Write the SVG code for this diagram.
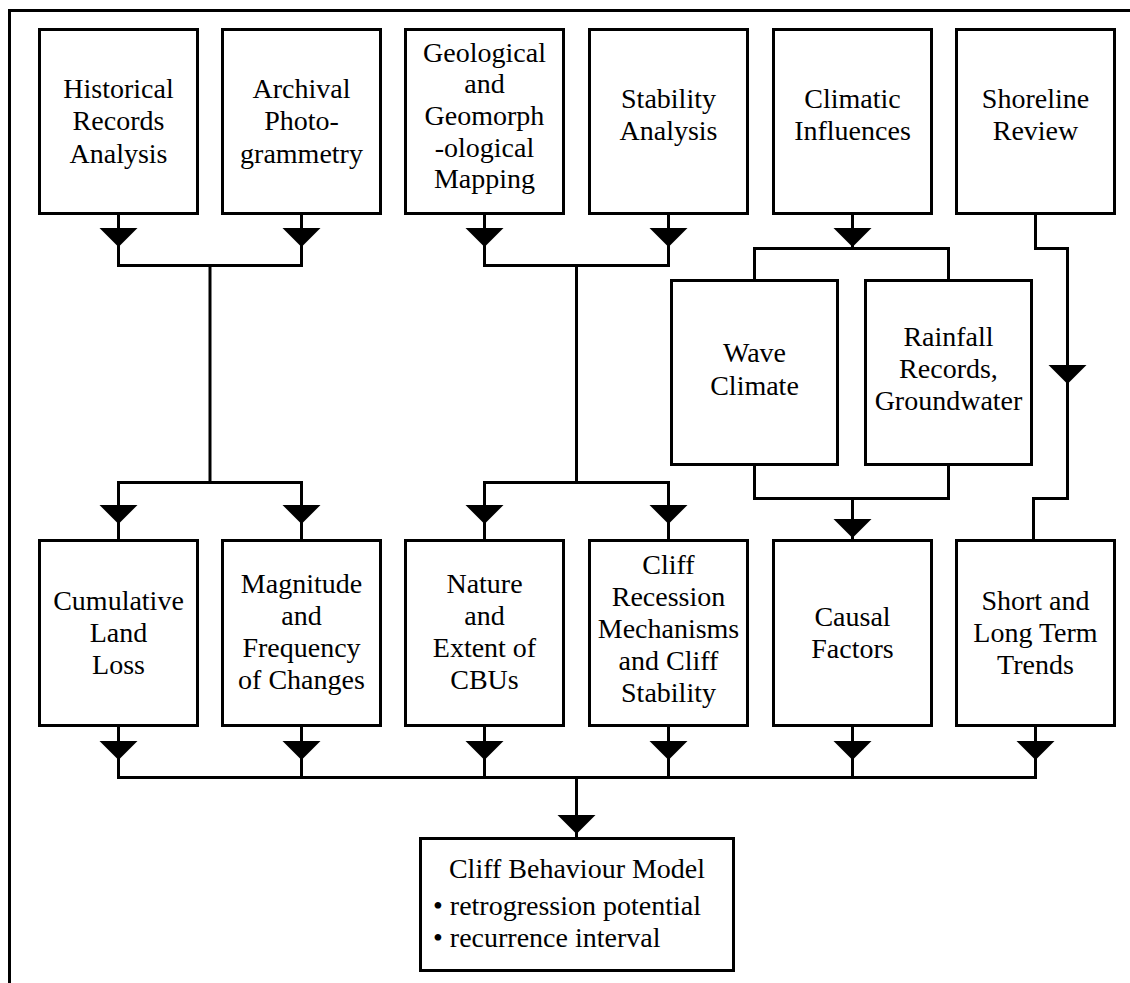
<svg xmlns="http://www.w3.org/2000/svg" width="1130" height="983" viewBox="0 0 1130 983" font-family="'Liberation Serif', 'Times New Roman', 'DejaVu Serif', serif" font-size="28">
<style>
.box{fill:#fff;stroke:#000;stroke-width:3}
.ln{fill:none;stroke:#000;stroke-width:3}
text{font-family:'Liberation Serif','Times New Roman','DejaVu Serif',serif;font-size:28px;fill:#000}
.c{text-anchor:middle}
</style>
<defs>
<path id="ah" d="M-19,0 L19,0 L0,19 Z" fill="#000"/>
</defs>
<rect x="0" y="0" width="1130" height="983" fill="#fff"/>
<path class="ln" d="M9.5,983 V10.5 H1130"/>

<g id="connectors">
<path class="ln" d="M118.5,214 V265.5 H301.5 V214"/>
<path class="ln" d="M210,265.5 V482.5"/>
<path class="ln" d="M118.5,540 V482.5 H301.5 V540"/>
<path class="ln" d="M484.5,214 V265.5 H668.5 V214"/>
<path class="ln" d="M576.5,265.5 V482.5"/>
<path class="ln" d="M484.5,540 V482.5 H668.5 V540"/>
<path class="ln" d="M852.5,214 V248.5"/>
<path class="ln" d="M754.5,280 V248.5 H948.5 V280"/>
<path class="ln" d="M754.5,465 V498.5 H948.5 V465"/>
<path class="ln" d="M852.5,498.5 V540"/>
<path class="ln" d="M1035.5,214 V248.5 H1067.5 V498.5 H1033.5 V540"/>
<path class="ln" d="M118.5,726 V777.5 M301.5,726 V777.5 M484.5,726 V777.5 M668.5,726 V777.5 M852.5,726 V777.5 M1035.5,726 V777.5"/>
<path class="ln" d="M117,777.5 H1037"/>
<path class="ln" d="M576.5,777.5 V838"/>
<use href="#ah" x="118.5" y="228"/>
<use href="#ah" x="301.5" y="228"/>
<use href="#ah" x="484.5" y="228"/>
<use href="#ah" x="668.5" y="228"/>
<use href="#ah" x="852.5" y="228"/>
<use href="#ah" x="118.5" y="505"/>
<use href="#ah" x="301.5" y="505"/>
<use href="#ah" x="484.5" y="505"/>
<use href="#ah" x="668.5" y="505"/>
<use href="#ah" x="852.5" y="519"/>
<use href="#ah" x="1067.5" y="365"/>
<use href="#ah" x="118.5" y="741"/>
<use href="#ah" x="301.5" y="741"/>
<use href="#ah" x="484.5" y="741"/>
<use href="#ah" x="668.5" y="741"/>
<use href="#ah" x="852.5" y="741"/>
<use href="#ah" x="1035.5" y="741"/>
<use href="#ah" x="576.5" y="815"/>
</g>

<g id="historical">
<rect class="box" x="39.5" y="29.5" width="158" height="184"/>
<text class="c" x="118.5" y="98">Historical</text>
<text class="c" x="118.5" y="130">Records</text>
<text class="c" x="118.5" y="163">Analysis</text>
</g>
<g id="archival">
<rect class="box" x="222.5" y="29.5" width="158" height="184"/>
<text class="c" x="301.5" y="98">Archival</text>
<text class="c" x="301.5" y="130">Photo-</text>
<text class="c" x="301.5" y="163">grammetry</text>
</g>
<g id="geological">
<rect class="box" x="405.5" y="29.5" width="158" height="184"/>
<text class="c" x="484.5" y="62">Geological</text>
<text class="c" x="484.5" y="93">and</text>
<text class="c" x="484.5" y="125">Geomorph</text>
<text class="c" x="484.5" y="157">-ological</text>
<text class="c" x="484.5" y="188">Mapping</text>
</g>
<g id="stability">
<rect class="box" x="589.5" y="29.5" width="158" height="184"/>
<text class="c" x="668.5" y="108">Stability</text>
<text class="c" x="668.5" y="140">Analysis</text>
</g>
<g id="climatic">
<rect class="box" x="773.5" y="29.5" width="158" height="184"/>
<text class="c" x="852.5" y="108">Climatic</text>
<text class="c" x="852.5" y="140">Influences</text>
</g>
<g id="shoreline">
<rect class="box" x="956.5" y="29.5" width="158" height="184"/>
<text class="c" x="1035.5" y="108">Shoreline</text>
<text class="c" x="1035.5" y="140">Review</text>
</g>

<g id="wave">
<rect class="box" x="671.5" y="280.5" width="166" height="184"/>
<text class="c" x="754.5" y="362">Wave</text>
<text class="c" x="754.5" y="395">Climate</text>
</g>
<g id="rainfall">
<rect class="box" x="865.5" y="280.5" width="166" height="184"/>
<text class="c" x="948.5" y="346">Rainfall</text>
<text class="c" x="948.5" y="378">Records,</text>
<text class="c" x="948.5" y="410">Groundwater</text>
</g>

<g id="cumulative">
<rect class="box" x="39.5" y="540.5" width="158" height="185"/>
<text class="c" x="118.5" y="610">Cumulative</text>
<text class="c" x="118.5" y="642">Land</text>
<text class="c" x="118.5" y="674">Loss</text>
</g>
<g id="magnitude">
<rect class="box" x="222.5" y="540.5" width="158" height="185"/>
<text class="c" x="301.5" y="593">Magnitude</text>
<text class="c" x="301.5" y="625">and</text>
<text class="c" x="301.5" y="657">Frequency</text>
<text class="c" x="301.5" y="689">of Changes</text>
</g>
<g id="nature">
<rect class="box" x="405.5" y="540.5" width="158" height="185"/>
<text class="c" x="484.5" y="593">Nature</text>
<text class="c" x="484.5" y="625">and</text>
<text class="c" x="484.5" y="657">Extent of</text>
<text class="c" x="484.5" y="689">CBUs</text>
</g>
<g id="recession">
<rect class="box" x="589.5" y="540.5" width="158" height="185"/>
<text class="c" x="668.5" y="574">Cliff</text>
<text class="c" x="668.5" y="606">Recession</text>
<text class="c" x="668.5" y="638">Mechanisms</text>
<text class="c" x="668.5" y="670">and Cliff</text>
<text class="c" x="668.5" y="702">Stability</text>
</g>
<g id="causal">
<rect class="box" x="773.5" y="540.5" width="158" height="185"/>
<text class="c" x="852.5" y="626">Causal</text>
<text class="c" x="852.5" y="658">Factors</text>
</g>
<g id="trends">
<rect class="box" x="956.5" y="540.5" width="158" height="185"/>
<text class="c" x="1035.5" y="610">Short and</text>
<text class="c" x="1035.5" y="642">Long Term</text>
<text class="c" x="1035.5" y="674">Trends</text>
</g>

<g id="model">
<rect class="box" x="420.5" y="838.5" width="313" height="132"/>
<text class="c" x="577" y="878">Cliff Behaviour Model</text>
<text x="433" y="915">• retrogression potential</text>
<text x="433" y="947">• recurrence interval</text>
</g>
</svg>
